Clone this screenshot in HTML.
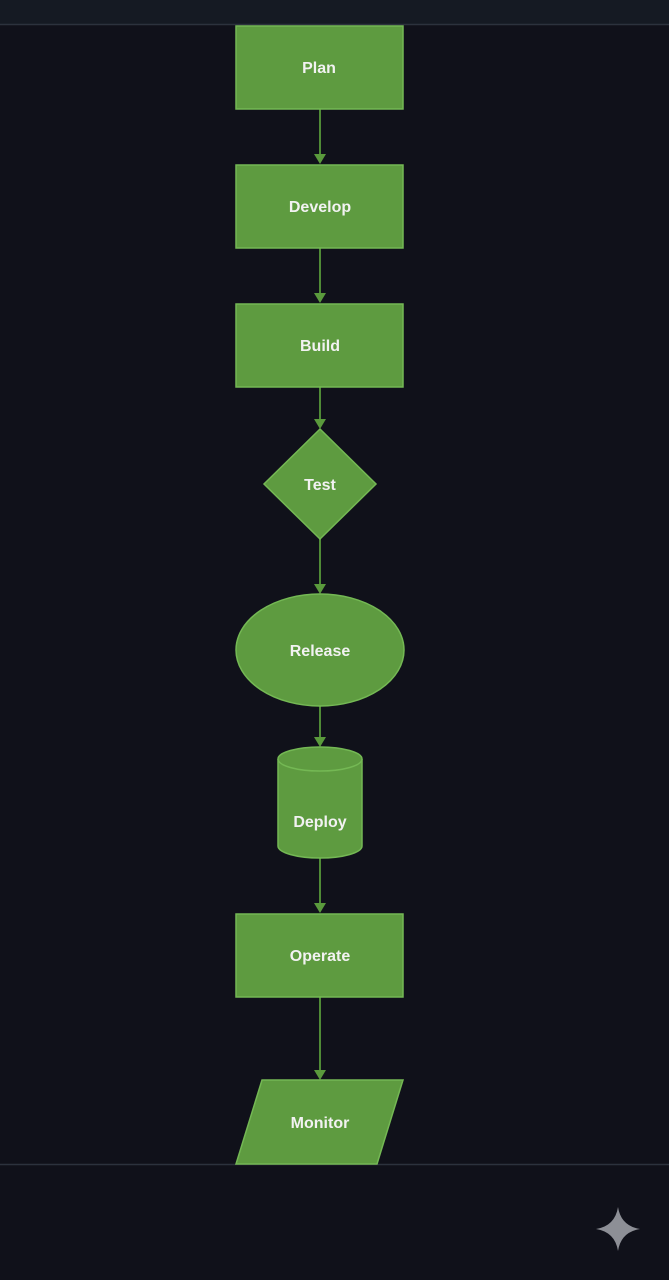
<!DOCTYPE html>
<html><head><style>
html,body{margin:0;padding:0;background:#10111a;}
svg{display:block}
</style></head><body>
<svg width="669" height="1280" viewBox="0 0 669 1280" xmlns="http://www.w3.org/2000/svg">
<rect x="0" y="0" width="669" height="1280" fill="#10111a"/>
<rect x="0" y="0" width="669" height="24" fill="#151a23"/>
<line x1="0" y1="24.5" x2="669" y2="24.5" stroke="#2c323d" stroke-width="1.5"/>
<line x1="0" y1="1164.5" x2="669" y2="1164.5" stroke="#2c323d" stroke-width="1.5"/>
<g stroke="#4f8a36" stroke-width="2" fill="none">
<line x1="320" y1="109" x2="320" y2="157"/>
<line x1="320" y1="248" x2="320" y2="296"/>
<line x1="320" y1="387" x2="320" y2="422"/>
<line x1="320" y1="539" x2="320" y2="587"/>
<line x1="320" y1="706" x2="320" y2="740"/>
<line x1="320" y1="858" x2="320" y2="906"/>
<line x1="320" y1="997" x2="320" y2="1073"/>
</g>
<g fill="#5a9a3c">
<path d="M314 154 L326 154 L320 164Z"/>
<path d="M314 293 L326 293 L320 303Z"/>
<path d="M314 419 L326 419 L320 429Z"/>
<path d="M314 584 L326 584 L320 594Z"/>
<path d="M314 737 L326 737 L320 747Z"/>
<path d="M314 903 L326 903 L320 913Z"/>
<path d="M314 1070 L326 1070 L320 1080Z"/>
</g>
<g fill="#5e9b40" stroke="#74b854" stroke-width="1.5">
<rect x="236" y="26" width="167" height="83"/>
<rect x="236" y="165" width="167" height="83"/>
<rect x="236" y="304" width="167" height="83"/>
<path d="M320 429 L376 484 L320 539 L264 484Z"/>
<ellipse cx="320" cy="650" rx="84" ry="56"/>
<path d="M278 759 L278 846 A42 12 0 0 0 362 846 L362 759"/>
<ellipse cx="320" cy="759" rx="42" ry="12"/>
<rect x="236" y="914" width="167" height="83"/>
<path d="M262 1080 L403 1080 L377 1164 L236 1164Z"/>
</g>
<g fill="#f2f2f2" font-family="Liberation Sans, sans-serif" font-weight="bold" font-size="16" text-anchor="middle">
<text x="319" y="73">Plan</text>
<text x="320" y="212">Develop</text>
<text x="320" y="351">Build</text>
<text x="320" y="490">Test</text>
<text x="320" y="656">Release</text>
<text x="320" y="827">Deploy</text>
<text x="320" y="961">Operate</text>
<text x="320" y="1128">Monitor</text>
</g>
<path d="M618 1207 Q621 1226 640 1229 Q621 1232 618 1251 Q615 1232 596 1229 Q615 1226 618 1207Z" fill="#8d8f96"/>
</svg>
</body></html>
